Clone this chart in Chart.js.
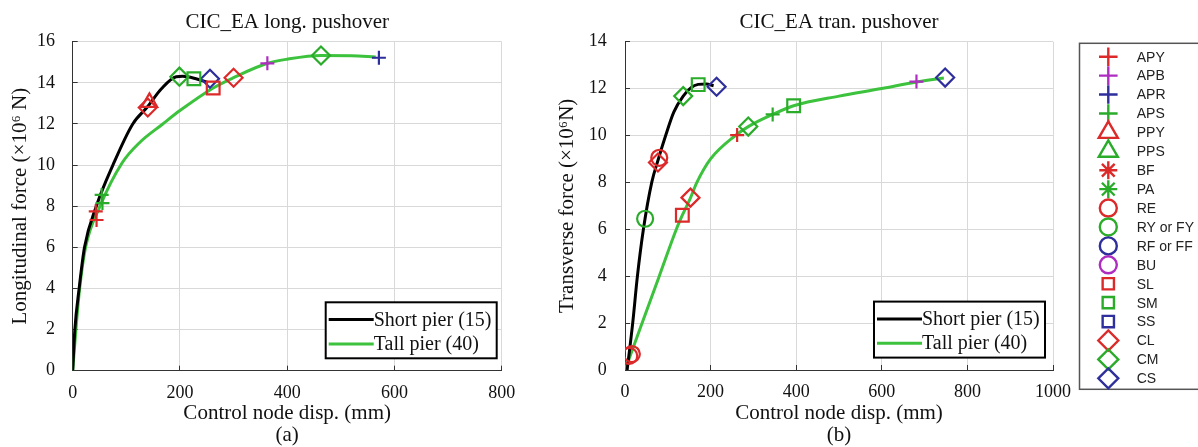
<!DOCTYPE html>
<html>
<head>
<meta charset="utf-8">
<script src="https://cdn.jsdelivr.net/npm/chart.js@4.4.1/dist/chart.umd.min.js"></script>
<style>
  html, body { margin: 0; padding: 0; background: #fff; }
  #wrap { position: relative; width: 1198px; height: 447px; overflow: hidden; }
  #longCanvas { position: absolute; left: 0; top: 0; }
  #tranCanvas { position: absolute; left: 552px; top: 0; }
</style>
</head>
<body>
<div id="wrap">
  <canvas id="longCanvas" width="552" height="447"></canvas>
  <canvas id="tranCanvas" width="646" height="447"></canvas>
</div>
<script>
const RED = '#dc2a2a';
const GREEN = '#2aac2a';
const BLUE = '#2e2e9c';
const MAGENTA = '#ae2cc0';
const LINE_GREEN = '#3cc23c';

// marker legend (shared)
const markerNames = ['APY', 'APB', 'APR', 'APS', 'PPY', 'PPS', 'BF', 'PA', 'RE', 'RY or FY', 'RF or FF', 'BU', 'SL', 'SM', 'SS', 'CL', 'CM', 'CS'];
const markerStyles = ['cross', 'cross', 'cross', 'cross', 'triangle', 'triangle', 'star', 'star', 'circle', 'circle', 'circle', 'circle', 'rect', 'rect', 'rect', 'rectRot', 'rectRot', 'rectRot'];
const markerColors = [RED, MAGENTA, BLUE, GREEN, RED, GREEN, RED, GREEN, RED, GREEN, BLUE, MAGENTA, RED, GREEN, BLUE, RED, GREEN, BLUE];

// (a) longitudinal pushover curves
const longShortX = [0, 4, 12, 22, 44, 75, 112, 140, 165, 193, 205, 230, 252];
const longShortY = [0, 2, 4, 6, 8, 10, 12, 12.85, 13.7, 14.3, 14.32, 14.2, 14.02];
const longTallX = [0, 6, 13, 24, 51, 92, 125, 168, 200, 262, 300, 363, 400, 463, 520, 565];
const longTallY = [0, 2, 4, 6, 8, 10.1, 11.1, 12, 12.65, 13.75, 14.25, 14.95, 15.15, 15.33, 15.32, 15.25];
const longMarkType = ['APY', 'APY', 'APS', 'APS', 'PPY', 'CL', 'CM', 'SM', 'CS', 'SL', 'CL', 'APB', 'CM', 'APR'];
const longMarkX = [43, 44.5, 54, 55.5, 143, 140, 199, 226, 256, 262, 300, 363, 463, 571];
const longMarkY = [7.75, 7.33, 8.55, 8.15, 13.05, 12.8, 14.3, 14.2, 14.2, 13.75, 14.25, 14.95, 15.33, 15.22];

// (b) transverse pushover curves
const tranShortX = [5, 18, 29, 43, 62.5, 78, 95, 114, 136, 155, 171, 190, 207];
const tranShortY = [0, 2, 4, 6, 8, 9, 10, 11, 11.68, 12.05, 12.18, 12.2, 12.12];
const tranTallX = [0, 40, 80, 120, 134, 152, 168, 200, 258, 288, 345, 394, 500, 600, 681, 745];
const tranTallY = [0, 2, 4, 6, 6.6, 7.3, 8, 9, 10, 10.38, 10.9, 11.27, 11.68, 12.0, 12.28, 12.45];
const tranMarkType = ['RE', 'RE', 'RY or FY', 'RE', 'CL', 'CM', 'SM', 'CS', 'SL', 'CL', 'APY', 'CM', 'APS', 'SM', 'APB', 'CS'];
const tranMarkX = [10, 16, 47, 80, 77, 136, 171, 214, 134, 153, 262, 288, 345, 394, 681, 748];
const tranMarkY = [0.6, 0.68, 6.45, 9.05, 8.85, 11.68, 12.17, 12.08, 6.6, 7.35, 10.02, 10.38, 10.9, 11.27, 12.3, 12.47];

const plotRadius = { cross: 7, triangle: 9, star: 8, circle: 8, rect: 9, rectRot: 9 };
const legendRadius = { cross: 9.3, triangle: 11, star: 9, circle: 8.5, rect: 8, rectRot: 10 };
const SERIF = 'Liberation Serif';

function buildDatasets(shortX, shortY, tallX, tallY, markType, markX, markY) {
  const datasets = [];
  markerNames.forEach((name, i) => {
    const pts = [];
    markType.forEach((t, k) => {
      if (t === name) pts.push({ x: markX[k], y: markY[k] });
    });
    if (!pts.length) return;
    datasets.push({
      label: name,
      data: pts,
      showLine: false,
      pointStyle: markerStyles[i],
      pointRadius: plotRadius[markerStyles[i]],
      pointBorderColor: markerColors[i],
      pointBackgroundColor: 'rgba(0,0,0,0)',
      pointBorderWidth: 2.2,
      order: 0
    });
  });
  datasets.push({
    label: 'Short pier (15)',
    data: shortX.map((x, i) => ({ x: x, y: shortY[i] })),
    showLine: true,
    borderColor: '#000',
    borderWidth: 3,
    pointRadius: 0,
    cubicInterpolationMode: 'monotone',
    order: 1
  });
  datasets.push({
    label: 'Tall pier (40)',
    data: tallX.map((x, i) => ({ x: x, y: tallY[i] })),
    showLine: true,
    borderColor: LINE_GREEN,
    borderWidth: 3,
    pointRadius: 0,
    cubicInterpolationMode: 'monotone',
    order: 1
  });
  return datasets;
}

// legend box for the two curves, inside the plot
const curveLegend = {
  id: 'curveLegend',
  afterDraw(chart, args, opts) {
    const ctx = chart.ctx;
    const area = chart.chartArea;
    const w = 171, h = 56;
    const left = area.right - opts.inset - w;
    const top = area.bottom - 12.4 - h;
    ctx.save();
    ctx.fillStyle = '#fff';
    ctx.fillRect(left, top, w, h);
    ctx.strokeStyle = '#000';
    ctx.lineWidth = 2;
    ctx.strokeRect(left, top, w, h);
    const rows = [['Short pier (15)', '#000', 17.3], ['Tall pier (40)', LINE_GREEN, 41.6]];
    ctx.font = '20px "' + SERIF + '"';
    ctx.textBaseline = 'middle';
    ctx.textAlign = 'left';
    rows.forEach((r) => {
      ctx.strokeStyle = r[1];
      ctx.lineWidth = 3;
      ctx.beginPath();
      ctx.moveTo(left + 3, top + r[2]);
      ctx.lineTo(left + 48, top + r[2]);
      ctx.stroke();
      ctx.fillStyle = '#111';
      ctx.fillText(r[0], left + 48, top + r[2] + 1);
    });
    ctx.restore();
  }
};

// marker legend on the far right
const markerLegend = {
  id: 'markerLegend',
  afterDraw(chart) {
    const ctx = chart.ctx;
    const left = 527.5, top = 43.3, bottom = 389.3;
    ctx.save();
    ctx.fillStyle = '#fff';
    ctx.fillRect(left, top, 140, bottom - top);
    ctx.strokeStyle = '#555';
    ctx.lineWidth = 1.5;
    ctx.strokeRect(left, top, 140, bottom - top);
    ctx.font = '14px "Liberation Sans"';
    ctx.textBaseline = 'middle';
    ctx.textAlign = 'left';
    markerNames.forEach((name, i) => {
      const y = 56.7 + i * 18.92;
      ctx.strokeStyle = markerColors[i];
      ctx.fillStyle = 'rgba(0,0,0,0)';
      ctx.lineWidth = 2.4;
      Chart.helpers.drawPoint(ctx, {
        pointStyle: markerStyles[i],
        radius: legendRadius[markerStyles[i]],
        rotation: 0,
        borderWidth: 2.4
      }, 556.3, y);
      ctx.fillStyle = '#222';
      ctx.fillText(name, 584.7, y + 1);
    });
    ctx.restore();
  }
};

function axisX(max, label, height) {
  return {
    type: 'linear', min: 0, max: max,
    ticks: {
      stepSize: 200, color: '#111', font: { family: SERIF, size: 18 }, padding: 16.5,
      callback: (v) => String(v)
    },
    grid: { color: '#d9d9d9', lineWidth: 1, tickLength: -5, tickColor: '#333' },
    border: { color: '#333', width: 1 },
    title: {
      display: true, text: ['Control node disp. (mm)', label], color: '#111',
      font: { family: SERIF, size: 21, lineHeight: 1.05 }, padding: { top: 0, bottom: 0 }
    },
    afterFit(s) { s.height = height; }
  };
}

function axisY(max, label, width, tickPad, titlePad) {
  return {
    type: 'linear', min: 0, max: max,
    ticks: {
      stepSize: 2, color: '#111', font: { family: SERIF, size: 18 }, padding: tickPad,
      callback: (v) => String(v)
    },
    grid: { color: '#d9d9d9', lineWidth: 1, tickLength: -5, tickColor: '#333' },
    border: { color: '#333', width: 1 },
    title: {
      display: true, text: label, color: '#111',
      font: { family: SERIF, size: 21, lineHeight: 1.1 }, padding: { top: titlePad, bottom: 0 }
    },
    afterFit(s) { s.width = width; }
  };
}

function chartTitle(text) {
  return {
    display: true, text: text, color: '#111', fullSize: false,
    font: { family: SERIF, size: 21, weight: 'normal', lineHeight: 1.1 },
    padding: { top: 11.15, bottom: 7.45 }
  };
}

const graficoLong = new Chart(document.getElementById('longCanvas').getContext('2d'), {
  type: 'scatter',
  data: { datasets: buildDatasets(longShortX, longShortY, longTallX, longTallY, longMarkType, longMarkX, longMarkY) },
  options: {
    responsive: false,
    animation: false,
    events: [],
    layout: { padding: { left: 0, right: 50.3, top: 0, bottom: 0 } },
    plugins: {
      legend: { display: false },
      tooltip: { enabled: false },
      title: chartTitle('CIC_EA long. pushover'),
      curveLegend: { inset: 5 }
    },
    scales: {
      x: axisX(800, '(a)', 76.3),
      y: axisY(16, 'Longitudinal force (×10⁶ N)', 72.7, 22.7, 8.45)
    }
  },
  plugins: [curveLegend]
});

const graficoTran = new Chart(document.getElementById('tranCanvas').getContext('2d'), {
  type: 'scatter',
  data: { datasets: buildDatasets(tranShortX, tranShortY, tranTallX, tranTallY, tranMarkType, tranMarkX, tranMarkY) },
  options: {
    responsive: false,
    animation: false,
    events: [],
    layout: { padding: { left: 0, right: 145, top: 0, bottom: 0 } },
    plugins: {
      legend: { display: false },
      tooltip: { enabled: false },
      title: chartTitle('CIC_EA tran. pushover'),
      curveLegend: { inset: 8 }
    },
    scales: {
      x: axisX(1000, '(b)', 77),
      y: axisY(14, 'Transverse force (×10⁶N)', 73, 23.3, 3.95)
    }
  },
  plugins: [curveLegend, markerLegend]
});
</script>
</body>
</html>
